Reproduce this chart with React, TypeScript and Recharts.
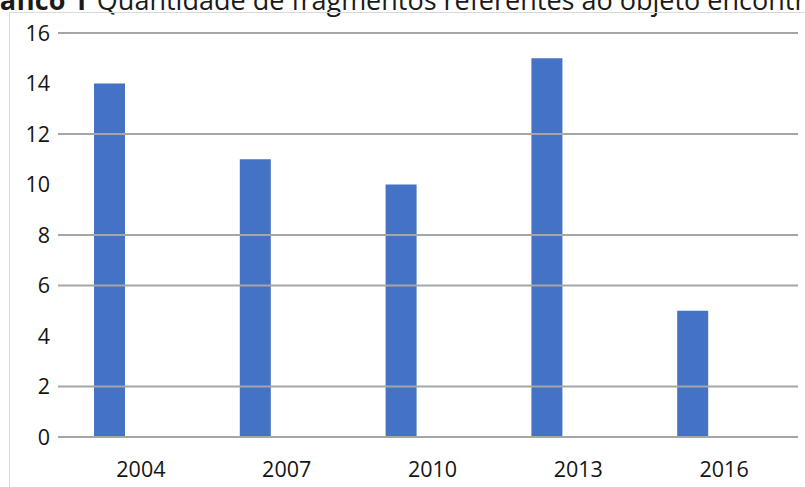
import React from 'react';
import { BarChart, Bar, XAxis, YAxis, ReferenceLine } from 'recharts';

const anos = ['2004', '2007', '2010', '2013', '2016'];
const fragmentos = [14, 11, 10, 15, 5];
const yTicks = [0, 2, 4, 6, 8, 10, 12, 14, 16];
// gridlines that are actually visible in the source picture
const gridValues = [0, 2, 6, 8, 12, 16];

const data = anos.map((ano, i) => ({ ano, serie1: fragmentos[i] }));

const FONT = '"Open Sans", "Noto Sans", sans-serif';
const tickStyle = { fill: '#141414', fontSize: 21.5, fontFamily: FONT };

const App: React.FC = () => {
  return (
    <div style={{ position: 'fixed', left: 0, top: 0, width: 805, height: 487, overflow: 'hidden', background: '#fff' }}>
      <div style={{
        position: 'absolute', left: -32, top: -19, whiteSpace: 'nowrap',
        fontFamily: FONT, fontSize: 27, color: '#1a1a1a',
      }}>
        <b>Gráfico 1</b><span style={{ marginLeft: 2 }}> Quantidade de fragmentos referentes ao objeto encontrado</span>
      </div>
      <div style={{
        position: 'absolute', left: 9, top: 12, width: 820, height: 500,
        borderLeft: '1.5px solid #d9d9d9', borderTop: '1.5px solid #d9d9d9',
      }} />
      <div style={{ position: 'absolute', left: 0, top: 0 }}>
        <BarChart width={805} height={487} data={data} barGap={0} barSize={31}
          margin={{ top: 33, right: 7, bottom: 20, left: 0 }}>
          {gridValues.map((v) => (
            <ReferenceLine key={v} y={v} stroke="#a6a6a6" strokeWidth={1.8} ifOverflow="extendDomain" />
          ))}
          <XAxis dataKey="ano" axisLine={false} tickLine={false} height={30} tickMargin={19}
            padding={{ left: 10, right: 1 }} tick={tickStyle} />
          <YAxis width={58} domain={[0, 16]} ticks={yTicks} axisLine={false} tickLine={false}
            tick={tickStyle} interval={0} />
          <Bar dataKey="serie1" fill="#4472C4" isAnimationActive={false} />
          <Bar dataKey="serie2" fill="#ED7D31" isAnimationActive={false} />
          <Bar dataKey="serie3" fill="#A5A5A5" isAnimationActive={false} />
        </BarChart>
      </div>
    </div>
  );
};

export default App;
